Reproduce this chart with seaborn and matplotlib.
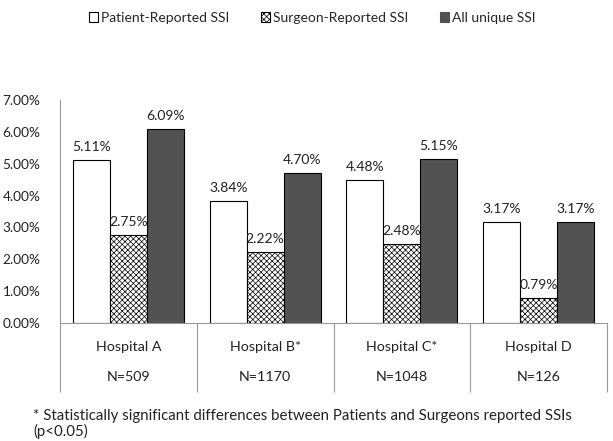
import matplotlib
matplotlib.use("Agg")
import matplotlib.pyplot as plt
import seaborn as sns
import pandas as pd
from matplotlib.patches import Patch
from matplotlib.ticker import FuncFormatter

hospitals = ["Hospital A", "Hospital B*", "Hospital C*", "Hospital D"]
sizes = ["N=509", "N=1170", "N=1048", "N=126"]
series = ["Patient-Reported SSI", "Surgeon-Reported SSI", "All unique SSI"]
patient = [5.11, 3.84, 4.48, 3.17]
surgeon = [2.75, 2.22, 2.48, 0.79]
all_unique = [6.09, 4.70, 5.15, 3.17]

rows = []
for s, vals in zip(series, [patient, surgeon, all_unique]):
    for h, v in zip(hospitals, vals):
        rows.append({"hospital": h, "series": s, "value": v / 100})
df = pd.DataFrame(rows)

sns.set_theme(style="white")
plt.rcParams['font.family'] = ['Lato', 'DejaVu Sans']
plt.rcParams['hatch.color'] = '#808080'
plt.rcParams['hatch.linewidth'] = 0.5

fig = plt.figure(figsize=(6.13, 4.41), dpi=100)
ax = fig.add_axes([60/613, 1 - 323/441, 547/613, 223/441])

colors = {"Patient-Reported SSI": "white", "Surgeon-Reported SSI": "white", "All unique SSI": "#525252"}
sns.barplot(data=df, x="hospital", y="value", hue="series", order=hospitals,
            hue_order=series, palette=colors, width=0.81, ax=ax,
            edgecolor="black", linewidth=0.8, legend=False, errorbar=None)

for i, cont in enumerate(ax.containers):
    for p in cont:
        if i == 1:
            p.set_hatch("xxxxxx")
    ax.bar_label(cont, labels=[f"{v*100:.2f}%" for v in cont.datavalues],
                 padding=5, fontsize=10, color="#222222")

ax.set_ylim(0, 0.07)
ax.set_yticks([i / 100 for i in range(8)])
ax.yaxis.set_major_formatter(FuncFormatter(lambda v, _: f"{v*100:.2f}%"))
ax.tick_params(axis="y", labelsize=9.8, colors="#222222", left=False, pad=8)
ax.set_xlim(-0.5, 3.5)
ax.set_xlabel("")
ax.set_ylabel("")
ax.set_xticks(range(4))
ax.set_xticklabels([f"{h}\n\n{n}" for h, n in zip(hospitals, sizes)],
                   fontsize=10.3, color="#222222", linespacing=1.3)
ax.tick_params(axis="x", which="major", length=0, pad=13)
ax.set_xticks([-0.5, 0.5, 1.5, 2.5, 3.5], minor=True)
ax.tick_params(axis="x", which="minor", length=50, width=0.8, color="#999999", direction="out", bottom=True)

for side in ["top", "right"]:
    ax.spines[side].set_visible(False)
ax.spines["left"].set_color("#999999")
ax.spines["bottom"].set_color("#999999")
ax.spines["left"].set_linewidth(0.8)
ax.spines["bottom"].set_linewidth(0.8)

handles = [Patch(facecolor="white", edgecolor="black", linewidth=0.8),
           Patch(facecolor="white", edgecolor="black", linewidth=0.8, hatch="xxxxxx"),
           Patch(facecolor="#525252", edgecolor="#525252", linewidth=0.8)]
fig.legend(handles, series, loc="center", bbox_to_anchor=(312/613, 1 - 18/441), ncol=3,
           frameon=False, fontsize=10, handlelength=0.65, handleheight=0.65,
           handletextpad=0.2, columnspacing=2.3)

fig.text(33/613, 1 - 424/441, "* Statistically significant differences between Patients and Surgeons reported SSIs\n(p<0.05)",
         fontsize=10.8, color="#222222", va="center", linespacing=1.1)

fig.savefig("out.png", dpi=100)
